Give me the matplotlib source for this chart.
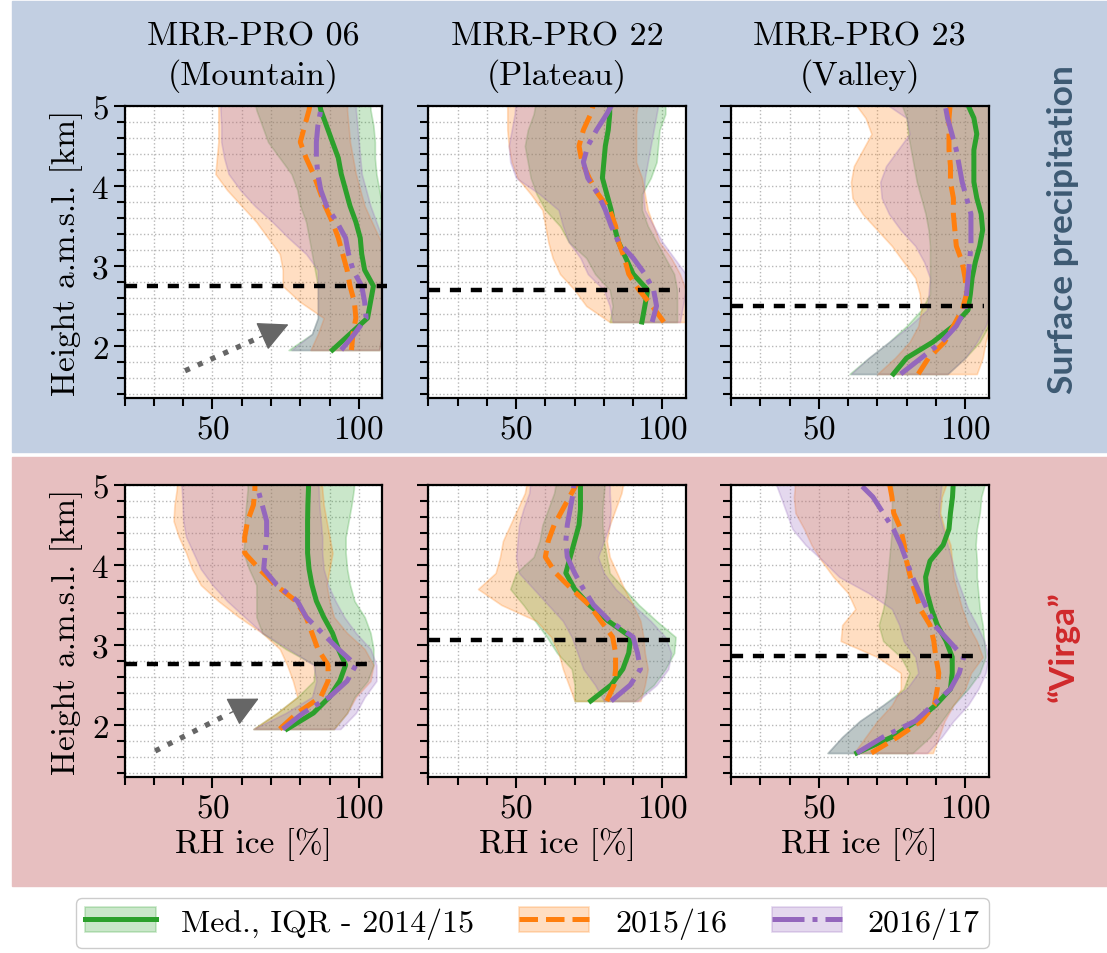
import matplotlib
matplotlib.use('Agg')
import matplotlib.pyplot as plt
from matplotlib.patches import Rectangle, Patch
from matplotlib.lines import Line2D
from matplotlib.ticker import MultipleLocator

plt.rcParams['font.family'] = 'serif'
plt.rcParams['font.serif'] = ['cmr10']
plt.rcParams['mathtext.fontset'] = 'cm'
plt.rcParams['axes.formatter.use_mathtext'] = True
plt.rcParams['font.size'] = 24

# Heights [km] per station
h_mtn = [1.95, 2.15, 2.35, 2.55, 2.75, 2.95, 3.15, 3.35, 3.55, 3.75, 3.95, 4.15, 4.35, 4.55, 4.75, 4.95, 5.15]
h_plt = [2.3, 2.5, 2.7, 2.9, 3.1, 3.3, 3.5, 3.7, 3.9, 4.1, 4.3, 4.5, 4.7, 4.9, 5.1]
h_val = [1.65, 1.85, 2.05, 2.25, 2.45, 2.65, 2.85, 3.05, 3.25, 3.45, 3.65, 3.85, 4.05, 4.25, 4.45, 4.65, 4.85, 5.05]

# Surface precipitation - Mountain
sp_mtn_14_med = [91, 97, 103, 104, 105, 102, 101, 100.5, 99, 97, 95.5, 94, 93, 91, 89, 87, 86]
sp_mtn_14_lo = [76, 84, 86, 86, 86, 85, 84, 83, 82, 80, 79, 77, 73, 69, 67, 65, 64]
sp_mtn_14_hi = [107, 108, 109, 110, 110, 110, 110, 110, 110, 108, 107, 106, 105.5, 105.5, 105, 104, 104]
sp_mtn_15_med = [97.5, 98, 99, 98.5, 97, 96, 94.5, 93, 91, 88.5, 86.5, 84.5, 82, 80, 81.5, 83, 84]
sp_mtn_15_lo = [83.5, 86, 88, 80, 74, 74, 73, 69, 65, 60, 55, 51, 51.5, 52, 52, 52, 52]
sp_mtn_15_hi = [107, 108, 109, 110, 110, 110, 110, 107, 104.5, 102, 100.5, 99, 98, 97, 96.5, 96, 96]
sp_mtn_16_med = [94, 98.5, 102.5, 102, 101, 98, 96.5, 95.5, 92.5, 89, 87, 86, 85.5, 85.5, 86, 87, 87]
sp_mtn_16_lo = [77, 84, 86, 86, 86, 86, 82, 76, 70.5, 64.5, 59.5, 55.5, 54, 53, 53, 52.7, 52.7]
sp_mtn_16_hi = [107, 108, 109, 110, 110, 110, 110, 108, 106, 104, 102.5, 101, 100.5, 100, 99.5, 99, 99]

# Surface precipitation - Plateau
sp_plt_14_med = [93, 94, 95, 90, 87.5, 85, 83.5, 82.5, 81, 79.5, 80, 80.5, 81.5, 82, 82]
sp_plt_14_lo = [82, 83, 82, 77, 74, 68, 65, 60, 57, 55, 54, 53, 54, 56, 57]
sp_plt_14_hi = [105, 105, 105, 104, 101, 98, 95, 93, 93, 96, 98, 98.5, 99, 101, 101]
sp_plt_15_med = [100.5, 96.5, 92, 88.5, 87, 85, 84, 82, 78, 75, 72.5, 71.5, 73, 75.5, 77]
sp_plt_15_lo = [82, 74, 70, 65, 62.5, 61, 60, 59, 55, 50.5, 48.5, 47.5, 47, 47, 47]
sp_plt_15_hi = [108, 108, 108, 106, 103, 99, 97, 95, 94, 93, 91, 91, 91, 91, 92]
sp_plt_16_med = [96.5, 98, 97, 94, 90, 85, 82.5, 80.5, 78, 74.5, 73, 74.5, 77.5, 81, 84]
sp_plt_16_lo = [83, 82, 80, 74.5, 72, 68, 66, 64.5, 58, 50, 48, 47.5, 48.5, 49.5, 50]
sp_plt_16_hi = [106, 107, 108, 108, 104, 100, 97, 94, 93.5, 94, 95, 96, 97, 98, 99]

# Surface precipitation - Valley
sp_val_14_med = [75.5, 80, 89, 96, 101, 101.8, 102.4, 103.5, 105, 106, 105.5, 104, 103, 103, 103, 104, 103, 100.5]
sp_val_14_lo = [60.5, 67, 74, 80, 85, 88, 88, 88, 88, 87.5, 86.5, 85, 83.5, 82.5, 81.5, 80.5, 80, 78]
sp_val_14_hi = [94, 100, 105, 108, 110, 110, 110, 110, 110, 110, 110, 110, 110, 110, 110, 110, 110, 110]
sp_val_15_med = [84, 87.5, 93, 96, 99, 100.5, 100, 99, 97, 96.5, 96, 96, 95, 95, 94.5, 94.5, 94.5, 95]
sp_val_15_lo = [70, 76, 81, 84, 85, 84.5, 83, 79, 75, 70, 65, 61.5, 61, 62, 65, 68, 66, 62]
sp_val_15_hi = [104, 106, 107, 108.5, 108.5, 108.5, 108.5, 108.5, 108.5, 108.5, 108.5, 108.5, 108.5, 108.5, 108.5, 108.5, 109, 109]
sp_val_16_med = [78, 85, 92, 97, 100, 100.5, 101, 101.5, 102, 102, 102, 100.5, 99, 98, 97, 95.5, 94, 93]
sp_val_16_lo = [61, 67, 74, 81, 87, 87.5, 88, 86, 83, 78, 74, 71.5, 71, 73, 77, 81, 80, 72]
sp_val_16_hi = [94, 100, 104, 107, 109, 109, 109, 109, 109, 109, 109, 109, 109, 109, 109, 109, 109, 110]

# Virga - Mountain
vg_mtn_14_med = [75.5, 84.5, 90, 93.5, 95.5, 93, 91, 88, 85.5, 84, 83, 82.5, 82.5, 82.5, 82.6, 82.8, 83]
vg_mtn_14_lo = [64, 72, 79, 84.6, 85, 75, 67, 65, 65, 65, 62.5, 60.6, 61, 61, 61.5, 62, 62]
vg_mtn_14_hi = [91.5, 96, 98.5, 103, 105, 105, 104, 102, 98.5, 97, 96, 95.5, 95.5, 96.5, 97.5, 98.3, 98.5]
vg_mtn_15_med = [73, 79, 87, 89.5, 89.5, 86, 84, 82, 78.5, 71.5, 66, 61, 61, 62, 64, 64.5, 64.5]
vg_mtn_15_lo = [64, 72, 79, 77.5, 75.5, 73, 67, 59, 52, 46, 43, 41, 38.5, 36.7, 37, 37.8, 38]
vg_mtn_15_hi = [91.5, 96, 99, 104, 105, 102, 96, 91.5, 90, 89, 90, 91, 90, 89, 88, 87.5, 87]
vg_mtn_16_med = [74, 81, 90, 96, 99, 93, 87.5, 82, 79, 72, 67.5, 68, 68.5, 68.5, 67, 65.5, 65]
vg_mtn_16_lo = [64, 75, 84, 85.5, 84.5, 76, 67, 61, 55, 50, 46, 43.5, 41, 40, 39.8, 39.5, 39]
vg_mtn_16_hi = [93.7, 99, 102, 106, 106, 104, 99, 95, 92, 89.5, 88, 87.5, 87.5, 87, 86.5, 86.3, 86]

# Virga - Plateau
vg_plt_14_med = [75.5, 82.5, 86.5, 88.5, 89.2, 81.5, 75, 70, 67, 68.5, 70, 71.5, 72, 72, 72]
vg_plt_14_lo = [70, 70, 69, 64, 60.5, 56.5, 52.5, 48, 50, 56, 58, 59, 61, 63, 64]
vg_plt_14_hi = [90.5, 97, 101, 104, 104.5, 98, 92, 87, 82, 81, 80, 79.5, 79.5, 80, 80.5]
vg_plt_15_med = [81, 83.5, 84, 84, 83, 79, 75, 69, 63.5, 60, 61, 63, 66, 69, 72]
vg_plt_15_lo = [70, 68, 66, 64.5, 62, 57, 45, 37, 43, 44.5, 45.5, 48, 50.5, 53, 54]
vg_plt_15_hi = [92.5, 94, 95, 94, 93.5, 92.5, 90, 87, 84.5, 82, 81, 82, 84, 86, 87]
vg_plt_16_med = [82.5, 89, 92.5, 91.5, 90, 82, 76.5, 73, 70, 67.5, 67, 67.5, 68.5, 69.5, 70]
vg_plt_16_lo = [80, 77, 73, 71, 69, 66, 61, 56, 51, 50, 50.5, 51, 52.5, 54.5, 55]
vg_plt_16_hi = [91.5, 98, 102, 103, 101, 96, 90, 84, 80, 78, 80, 82, 82.3, 82, 82]

# Virga - Valley
vg_val_14_med = [63, 75, 83.5, 90, 95, 95.6, 95.6, 93.5, 90.5, 88.5, 87, 86.5, 88, 92.5, 94.5, 95, 95.7, 96]
vg_val_14_lo = [53, 58, 64, 72, 79, 81, 78, 72, 70.5, 72, 73, 73.5, 74, 74.5, 75, 75, 75, 75]
vg_val_14_hi = [82, 88, 92, 96, 101, 105, 107, 106.5, 106, 105, 104.5, 104, 104, 103.6, 104, 105, 105.5, 107]
vg_val_15_med = [68, 77, 85, 89.5, 90.5, 91, 90, 89.3, 88, 84.7, 83, 81.3, 80, 79.2, 78, 75.6, 75, 74]
vg_val_15_lo = [62, 66, 70, 75, 78, 78, 70, 57.5, 58, 62.5, 60, 55, 51, 47.5, 45, 42, 41.5, 42]
vg_val_15_hi = [89, 91, 93, 96, 100, 102, 106, 104, 101, 99, 97.5, 96, 95.5, 95, 93, 91.5, 92, 94]
vg_val_16_med = [63, 72, 83, 89, 95, 98, 99.5, 94.5, 89.5, 87, 84.5, 82, 80, 78, 75.5, 72, 68.5, 63]
vg_val_16_lo = [53, 58, 64, 72, 80, 84, 83, 79, 77.5, 75, 67, 57, 51.5, 45.5, 41, 39, 37, 35]
vg_val_16_hi = [87, 92, 96, 101, 104.5, 107, 108, 106.5, 104, 101, 99, 97, 95.5, 94, 92.5, 91, 91.5, 92]

# reference heights (black dashed) and their x extent
sp_href = [2.75, 2.70, 2.50]
vg_href = [2.76, 3.06, 2.86]
sp_href_end = [109.7, 106, 106.4]
vg_href_end = [105.7, 105, 104.7]

stations = ['MRR-PRO 06\n(Mountain)', 'MRR-PRO 22\n(Plateau)', 'MRR-PRO 23\n(Valley)']
years = ['Med., IQR - 2014/15', '2015/16', '2016/17']
colors = ['#2ca02c', '#ff7f0e', '#9467bd']
styles = ['-', '--', '-.']

heights = [h_mtn, h_plt, h_val]
rows = [
    [[(sp_mtn_14_med, sp_mtn_14_lo, sp_mtn_14_hi), (sp_mtn_15_med, sp_mtn_15_lo, sp_mtn_15_hi), (sp_mtn_16_med, sp_mtn_16_lo, sp_mtn_16_hi)],
     [(sp_plt_14_med, sp_plt_14_lo, sp_plt_14_hi), (sp_plt_15_med, sp_plt_15_lo, sp_plt_15_hi), (sp_plt_16_med, sp_plt_16_lo, sp_plt_16_hi)],
     [(sp_val_14_med, sp_val_14_lo, sp_val_14_hi), (sp_val_15_med, sp_val_15_lo, sp_val_15_hi), (sp_val_16_med, sp_val_16_lo, sp_val_16_hi)]],
    [[(vg_mtn_14_med, vg_mtn_14_lo, vg_mtn_14_hi), (vg_mtn_15_med, vg_mtn_15_lo, vg_mtn_15_hi), (vg_mtn_16_med, vg_mtn_16_lo, vg_mtn_16_hi)],
     [(vg_plt_14_med, vg_plt_14_lo, vg_plt_14_hi), (vg_plt_15_med, vg_plt_15_lo, vg_plt_15_hi), (vg_plt_16_med, vg_plt_16_lo, vg_plt_16_hi)],
     [(vg_val_14_med, vg_val_14_lo, vg_val_14_hi), (vg_val_15_med, vg_val_15_lo, vg_val_15_hi), (vg_val_16_med, vg_val_16_lo, vg_val_16_hi)]],
]
hrefs = [sp_href, vg_href]
href_ends = [sp_href_end, vg_href_end]
arrows = [((40.6, 1.69), (76, 2.27)), ((30.4, 1.675), (65.8, 2.33))]

W, H = 1107, 954
fig = plt.figure(figsize=(W / 100, H / 100), dpi=100)

# coloured background boxes
fig.patches.append(Rectangle((12 / W, 1 - 453 / H), 1 - 12 / W, 451 / H,
                             transform=fig.transFigure, color='#c2cfe2', zorder=-10))
fig.patches.append(Rectangle((12 / W, 1 - 887 / H), 1 - 12 / W, 429 / H,
                             transform=fig.transFigure, color='#e7bfc0', zorder=-10))

lefts = [124.7 / W, 428.3 / W, 731 / W]
bottoms = [1 - 399 / H, 1 - 778 / H]
aw, ah = 257.5 / W, 292 / H

for r in range(2):
    for c in range(3):
        ax = fig.add_axes([lefts[c], bottoms[r], aw, ah])
        h = heights[c]
        for k in range(3):
            med, lo, hi = rows[r][c][k]
            ax.fill_betweenx(h, lo, hi, color=colors[k], alpha=0.25, lw=1.2)
        for k in range(3):
            med, lo, hi = rows[r][c][k]
            ax.plot(med, h, color=colors[k], ls=styles[k], lw=3.6)
        ax.plot([20.3, href_ends[r][c]], [hrefs[r][c]] * 2, color='k', lw=3.2,
                dashes=(2.5, 2.2), clip_on=False, zorder=5)
        ax.set_xlim(20, 108)
        ax.set_ylim(1.35, 5)
        ax.xaxis.set_major_locator(MultipleLocator(50))
        ax.xaxis.set_minor_locator(MultipleLocator(10))
        ax.yaxis.set_major_locator(MultipleLocator(1))
        ax.yaxis.set_minor_locator(MultipleLocator(0.2))
        ax.grid(which='both', ls=':', color='0.72', lw=1.0)
        ax.set_axisbelow(True)
        ax.tick_params(which='major', length=8, width=1.5, labelsize=24)
        ax.tick_params(which='minor', length=5.5, width=1.5)
        for s in ax.spines.values():
            s.set_linewidth(1.6)
        if c == 0:
            ax.set_ylabel('Height a.m.s.l. [km]', fontsize=24, labelpad=6)
            (x0, y0), (x1, y1) = arrows[r]
            xm, ym = x0 + 0.72 * (x1 - x0), y0 + 0.72 * (y1 - y0)
            ax.plot([x0, xm], [y0, ym], ls=':', lw=3.8, color='#666666')
            ax.annotate('', xy=(x1, y1), xytext=(xm, ym),
                        arrowprops=dict(arrowstyle='-|>', lw=1, color='#666666',
                                        mutation_scale=48, shrinkA=0, shrinkB=0))
        else:
            ax.set_yticklabels([])
        if r == 0:
            ax.set_title(stations[c], fontsize=24.5, pad=16, linespacing=1.3)
        else:
            ax.set_xlabel('RH ice [%]', fontsize=24)

fig.text(1063 / W, 1 - 230 / H, 'Surface precipitation', rotation=90,
         ha='center', va='center', fontsize=25.5, fontweight='bold',
         family=['Lato', 'DejaVu Sans'], color='#3d5a73')
fig.text(1063 / W, 1 - 647 / H, '\u201cVirga\u201d', rotation=90,
         ha='center', va='center', fontsize=25.5, fontweight='bold',
         family=['Lato', 'DejaVu Sans'], color='#d0292b')

handles = []
for k in range(3):
    handles.append((Patch(facecolor=colors[k], edgecolor=colors[k], alpha=0.25, lw=1.2),
                    Line2D([], [], color=colors[k], ls=styles[k], lw=3.6)))
fig.legend(handles, years, loc='lower center', bbox_to_anchor=(0.481, 0.0),
           ncol=3, fontsize=23, handlelength=2.2, handleheight=0.8,
           columnspacing=1.4, borderpad=0.3, borderaxespad=0.15, fancybox=True,
           edgecolor='0.8', framealpha=1)

fig.savefig('out.png', dpi=100, facecolor='white')
